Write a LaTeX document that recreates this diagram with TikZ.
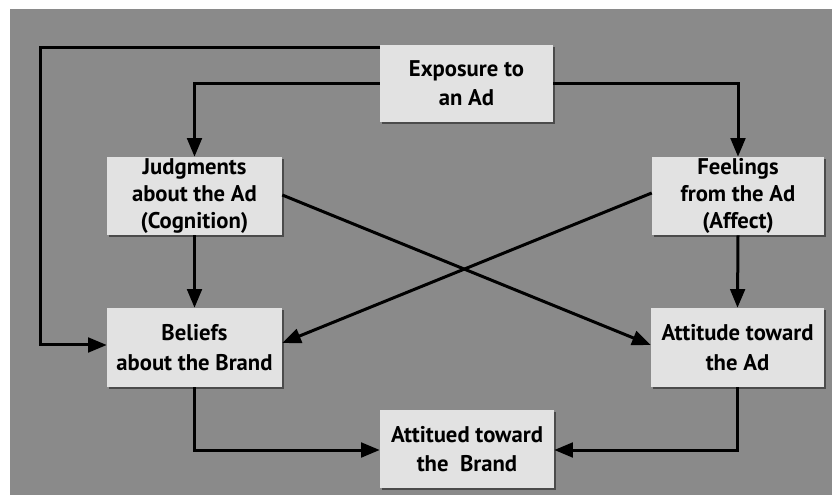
\documentclass[tikz,border=0pt]{standalone}
\usepackage{fontspec}
\setmainfont{PT Sans}
\usetikzlibrary{arrows.meta,shadows,calc}
\definecolor{panel}{RGB}{138,138,138}
\definecolor{boxfill}{RGB}{226,226,226}
\begin{document}
\begin{tikzpicture}[x=0.75pt,y=-0.75pt,
  stage/.style={fill=boxfill, inner sep=0pt, align=center,
    font=\fontsize{17}{22}\selectfont\bfseries,
    drop shadow={shadow xshift=1.2pt, shadow yshift=-1.2pt, opacity=0.45, fill=black}},
  tight/.style={font=\fontsize{17}{20}\selectfont\bfseries},
  link/.style={line width=2.25pt, -{Triangle[length=14pt,width=11pt]}}]
  % page and grey panel
  \useasboundingbox (0,0) rectangle (832,495);
  \fill[white] (0,0) rectangle (832,495);
  \fill[panel] (10,9) rectangle (832,495);

  % stages
  \node[stage, minimum width=173*0.75pt, minimum height=77*0.75pt] (expo) at (466.5,83.5) {Exposure to\\an Ad};
  \node[stage, tight, minimum width=175*0.75pt, minimum height=78*0.75pt] (judge) at (194.5,196) {Judgments\\about the Ad\\(Cognition)};
  \node[stage, tight, minimum width=172*0.75pt, minimum height=78*0.75pt] (feel) at (738,196) {Feelings\\from the Ad\\(Affect)};
  \node[stage, minimum width=175*0.75pt, minimum height=79*0.75pt] (belief) at (194.5,347.5) {Beliefs\\about the Brand};
  \node[stage, minimum width=173*0.75pt, minimum height=79*0.75pt] (attad) at (737.5,347.5) {Attitude toward\\the Ad};
  \node[stage, minimum width=174*0.75pt, minimum height=78*0.75pt] (attbr) at (467,449) {Attitued toward\\the~~Brand};

  % connectors
  \coordinate (loop) at (40,48);
  \coordinate (low) at (0,450);
  \draw[link] (expo.west |- loop) -- (loop) |- (belief.west |- 0,345);
  \draw[link] (expo.west) -| (judge.north);
  \draw[link] (expo.east) -| (feel.north);
  \draw[link] (judge.south) -- (belief.north);
  \draw[link] (feel.south) -- (attad.north);
  \draw[link] (judge.east |- 0,195) -- (attad.west |- 0,345);
  \draw[link] (feel.west |- 0,193) -- (belief.east |- 0,343);
  \draw[link] (belief.south) |- (attbr.west |- low);
  \draw[link] (attad.south) |- (attbr.east |- low);
\end{tikzpicture}
\end{document}
